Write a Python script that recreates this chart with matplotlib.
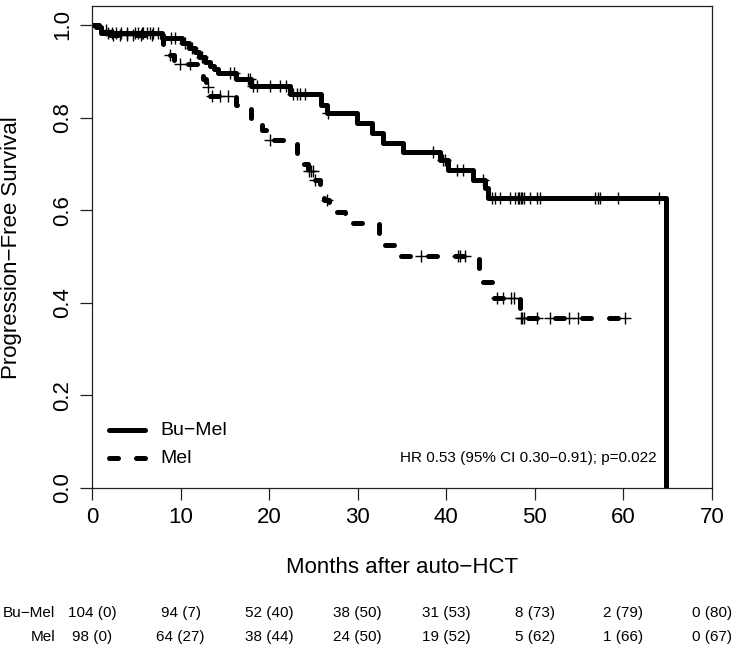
import numpy as np
import matplotlib
matplotlib.use("Agg")
import matplotlib.pyplot as plt
import matplotlib.transforms as mtransforms

plt.rcParams['font.family'] = ['Liberation Sans', 'DejaVu Sans']

MINUS = "\u2212"

# ---------------- data ----------------
bumel_event_t = [0.5, 1.0, 7.9, 10.2, 10.9, 11.6, 12.1, 12.7, 13.3, 13.8, 14.2, 16.3, 17.9,
                 22.4, 25.9, 26.5, 29.9, 31.6, 32.9, 35.1, 39.3, 40.2, 43.0, 44.4, 44.7, 64.8]
bumel_event_s = [0.995, 0.983, 0.971, 0.961, 0.951, 0.941, 0.931, 0.921, 0.912, 0.904, 0.896,
                 0.883, 0.868, 0.850, 0.828, 0.809, 0.789, 0.766, 0.746, 0.726, 0.708, 0.687,
                 0.665, 0.648, 0.626, 0.0]
bumel_censor_t = [1.8, 2.2, 2.7, 3.3, 4.0, 4.8, 5.2, 5.6, 5.8, 6.2, 6.5, 6.9, 7.5, 8.9, 9.4,
                  10.5, 11.3, 12.4, 15.6, 16.0, 17.6, 17.8, 18.2, 18.6, 20.1, 21.2, 21.9,
                  22.7, 23.1, 23.5, 24.0, 26.6, 38.5, 39.6, 39.9, 41.2, 41.9, 44.1, 45.2,
                  45.5, 46.1, 47.2, 47.8, 48.1, 48.2, 48.4, 48.6, 48.8, 49.4, 50.2, 50.6,
                  56.8, 57.1, 57.4, 59.4, 64.0]

mel_event_t = [0.8, 2.0, 8.0, 8.6, 9.2, 12.0, 12.5, 12.9, 13.2, 16.3, 18.0, 19.2, 19.6, 23.1,
               24.4, 25.0, 25.7, 26.2, 26.8, 28.6, 32.4, 34.4, 43.7, 45.3, 48.3]
mel_event_s = [0.990, 0.979, 0.958, 0.936, 0.915, 0.903, 0.883, 0.866, 0.847, 0.826, 0.795,
               0.772, 0.752, 0.700, 0.685, 0.665, 0.638, 0.622, 0.595, 0.572, 0.524, 0.501,
               0.445, 0.410, 0.367]
mel_last_t = 60.2
mel_censor_t = [1.6, 2.4, 3.2, 4.0, 4.6, 5.5, 6.8, 8.8, 9.9, 11.1, 13.1, 13.5, 14.5, 15.4,
                20.1, 24.5, 24.7, 24.9, 25.2, 26.5, 37.1, 41.3, 41.6, 42.1, 45.7, 46.4,
                47.3, 47.7, 48.4, 48.6, 48.8, 50.2, 51.7, 53.8, 54.9, 60.2]

group_labels = ["Bu" + MINUS + "Mel", "Mel"]
risk_times = [0, 10, 20, 30, 40, 50, 60, 70]
bumel_at_risk = [104, 94, 52, 38, 31, 8, 2, 0]
bumel_cum_events = [0, 7, 40, 50, 53, 73, 79, 80]
mel_at_risk = [98, 64, 38, 24, 19, 5, 1, 0]
mel_cum_events = [0, 27, 44, 50, 52, 62, 66, 67]

hr_text = "HR 0.53 (95% CI 0.30" + MINUS + "0.91); p=0.022"

x_ticks = [0, 10, 20, 30, 40, 50, 60, 70]
y_ticks = [0.0, 0.2, 0.4, 0.6, 0.8, 1.0]

# ---------------- figure ----------------
fig = plt.figure(figsize=(7.5, 6.46), dpi=100)
ax = fig.add_axes([0.1227, 0.2446, 0.8266, 0.7455])

LW = 3.6
DASH = (1.8, 3.6)


def step_arrays(et, es, last=None):
    t = [0.0] + list(et)
    s = [1.0] + list(es)
    if last is not None:
        t.append(last)
        s.append(s[-1])
    return np.array(t), np.array(s)


def level_at(t, s, c):
    idx = np.searchsorted(t, c, side='right') - 1
    return s[idx]


bt, bs = step_arrays(bumel_event_t, bumel_event_s)
mt, ms = step_arrays(mel_event_t, mel_event_s, mel_last_t)

ax.plot(bt, bs, drawstyle='steps-post', color='black', lw=LW,
        solid_joinstyle='round', solid_capstyle='round')
ax.plot(mt, ms, drawstyle='steps-post', color='black', lw=LW,
        dashes=DASH, dash_capstyle='round', dash_joinstyle='round')

bc = np.array(bumel_censor_t)
mc = np.array(mel_censor_t)
ax.plot(bc, level_at(bt, bs, bc), ls='none', marker='+', ms=8.5, mew=1.0, color='black')
ax.plot(mc, level_at(mt, ms, mc), ls='none', marker='+', ms=8.5, mew=1.0, color='black')

ax.set_xlim(0, 70)
ax.set_ylim(0, 1.04)
ax.set_xticks(x_ticks)
ax.set_xticklabels([str(v) for v in x_ticks])
ax.set_yticks(y_ticks)
ax.set_yticklabels([f"{v:.1f}" for v in y_ticks])

for sp in ax.spines.values():
    sp.set_linewidth(0.9)
    sp.set_color('#222222')
ax.tick_params(direction='out', length=8.6, width=0.9, color='#222222', labelsize=16,
               pad=5)
ax.tick_params(axis='y', labelrotation=90)
for lbl in ax.get_yticklabels():
    lbl.set_va('center')

fig.text(0.016, 0.617, "Progression" + MINUS + "Free Survival", rotation=90,
         ha='center', va='center', fontsize=16)
fig.text(0.536, 0.122, "Months after auto" + MINUS + "HCT", ha='center', va='center',
         fontsize=16)

# legend (manual, R style)
ax.plot([0.027, 0.085], [0.120, 0.120], transform=ax.transAxes, color='black', lw=LW,
        solid_capstyle='round')
ax.plot([0.027, 0.085], [0.062, 0.062], transform=ax.transAxes, color='black', lw=LW,
        dashes=DASH, dash_capstyle='round')
ax.text(0.111, 0.120, group_labels[0], transform=ax.transAxes, ha='left', va='center',
        fontsize=14)
ax.text(0.111, 0.062, group_labels[1], transform=ax.transAxes, ha='left', va='center',
        fontsize=14)
ax.text(0.911, 0.062, hr_text, transform=ax.transAxes, ha='right', va='center', fontsize=11)

# number at risk table
trans = mtransforms.blended_transform_factory(ax.transData, fig.transFigure)
row_y = [0.0511, 0.0139]
rows = [(bumel_at_risk, bumel_cum_events), (mel_at_risk, mel_cum_events)]
for (n, ev), y, lab in zip(rows, row_y, group_labels):
    fig.text(0.0733, y, lab, ha='right', va='center', fontsize=11)
    for xt, a, e in zip(risk_times, n, ev):
        ax.text(xt, y, f"{a} ({e})", transform=trans, ha='center', va='center',
                fontsize=11, clip_on=False)

fig.savefig("out.png", dpi=100)
